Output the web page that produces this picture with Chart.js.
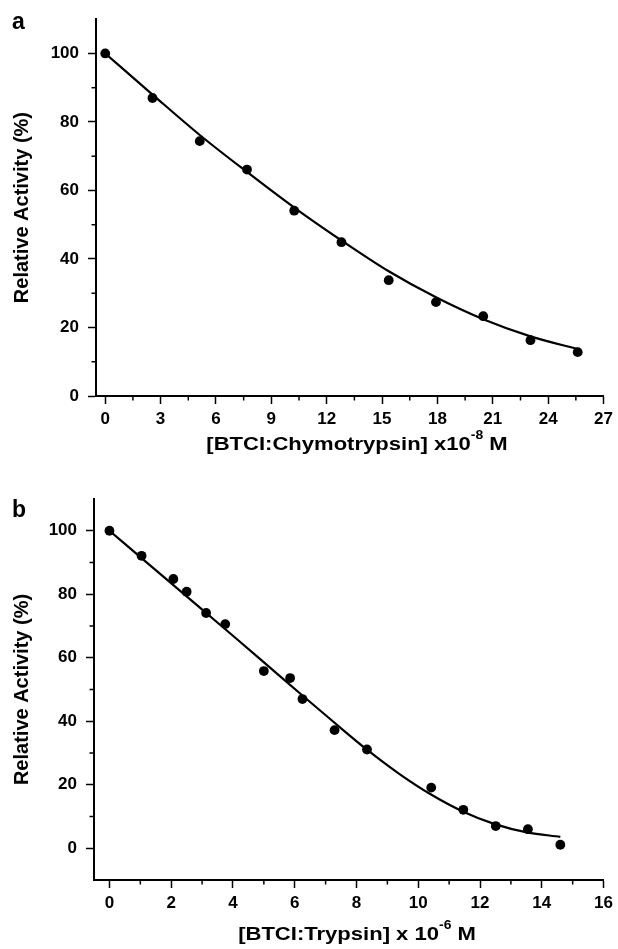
<!DOCTYPE html>
<html>
<head>
<meta charset="utf-8">
<script src="https://cdn.jsdelivr.net/npm/chart.js@4.4.1/dist/chart.umd.min.js"></script>
<style>
  html, body { margin:0; padding:0; background:#fff; }
  #wrap { position:relative; width:618px; height:949px; }
  canvas { position:absolute; left:0; }
  #ca { top:0; }
  #cb { top:470px; }
</style>
</head>
<body>
<div id="wrap">
  <canvas id="ca" width="618" height="470"></canvas>
  <canvas id="cb" width="618" height="479"></canvas>
</div>
<script>
// ---------- Panel a: BTCI vs Chymotrypsin ----------
const aConc      = [0, 2.56, 5.12, 7.68, 10.24, 12.8, 15.36, 17.92, 20.48, 23.04, 25.6];
const aActivity  = [100, 87.0, 74.4, 66.1, 54.1, 44.9, 33.8, 27.4, 23.3, 16.3, 12.8];
const aFitConc   = [0, 2.56, 5.12, 7.68, 10.24, 12.8, 15.36, 17.92, 20.48, 23.04, 25.6];
const aFitAct    = [100, 88.0, 76.2, 65.4, 55.0, 45.4, 36.4, 28.8, 22.4, 17.4, 13.7];
const aXTicks    = [0, 3, 6, 9, 12, 15, 18, 21, 24, 27];
const aXMinor    = [1.5, 4.5, 7.5, 10.5, 13.5, 16.5, 19.5, 22.5, 25.5];
const aYTicks    = [0, 20, 40, 60, 80, 100];
const aYMinor    = [10, 30, 50, 70, 90];
const aXTitle    = ['[BTCI:Chymotrypsin] x10', '-8', ' M'];

// ---------- Panel b: BTCI vs Trypsin ----------
const bConc      = [0, 1.04, 2.07, 2.5, 3.13, 3.75, 5.0, 5.85, 6.25, 7.29, 8.34, 10.42, 11.46, 12.51, 13.55, 14.6];
const bActivity  = [100, 92.1, 84.8, 80.8, 74.1, 70.6, 55.8, 53.6, 47.0, 37.2, 31.1, 19.1, 12.1, 7.0, 6.0, 1.1];
const bFitConc   = [0, 1.04, 2.08, 3.12, 4.16, 5.2, 6.24, 7.28, 8.32, 9.36, 10.4, 11.44, 12.48, 13.52, 14.6];
const bFitAct    = [100, 91.4, 82.8, 74.2, 65.6, 56.9, 48.2, 39.6, 31.2, 23.6, 17.0, 11.6, 7.6, 5.0, 3.6];
const bXTicks    = [0, 2, 4, 6, 8, 10, 12, 14, 16];
const bXMinor    = [1, 3, 5, 7, 9, 11, 13, 15];
const bYTicks    = [0, 20, 40, 60, 80, 100];
const bYMinor    = [10, 30, 50, 70, 90];
const bXTitle    = ['[BTCI:Trypsin] x 10', '-6', ' M'];

const yTitle = 'Relative Activity (%)';
const FAM = "'Liberation Sans', Arial, Helvetica, sans-serif";

Chart.defaults.color = '#000';
Chart.defaults.font.family = FAM;

const decor = {
  id: 'decor',
  afterDraw(chart) {
    const o = chart.options.plugins.decor;
    const ctx = chart.ctx;
    const xs = chart.scales.x, ys = chart.scales.y;
    ctx.save();
    ctx.strokeStyle = '#000';
    ctx.lineWidth = 1.5;
    o.xMinor.forEach(v => {
      const p = xs.getPixelForValue(v);
      ctx.beginPath(); ctx.moveTo(p, ys.bottom); ctx.lineTo(p, ys.bottom + 4.5); ctx.stroke();
    });
    o.yMinor.forEach(v => {
      const p = ys.getPixelForValue(v);
      ctx.beginPath(); ctx.moveTo(xs.left, p); ctx.lineTo(xs.left - 4.5, p); ctx.stroke();
    });
    ctx.fillStyle = '#000';
    // y title
    ctx.save();
    ctx.translate(o.yTitleX, (ys.top + ys.bottom) / 2);
    ctx.rotate(-Math.PI / 2);
    ctx.font = 'bold 20px ' + FAM;
    ctx.textAlign = 'center';
    ctx.textBaseline = 'alphabetic';
    ctx.fillText(yTitle, 0, 0);
    ctx.restore();
    // x title with superscript, slightly widened
    ctx.save();
    const fMain = 'bold 19px ' + FAM, fSup = 'bold 12px ' + FAM;
    const parts = [[o.xTitle[0], fMain, 0], [o.xTitle[1], fSup, -11], [o.xTitle[2], fMain, 0]];
    let w = 0;
    parts.forEach(p => { ctx.font = p[1]; w += ctx.measureText(p[0]).width; });
    ctx.translate(o.xTitleCx, ys.bottom + o.xTitleDy);
    ctx.scale(1.16, 1);
    ctx.textAlign = 'left';
    ctx.textBaseline = 'alphabetic';
    let cx = -w / 2;
    parts.forEach(p => { ctx.font = p[1]; ctx.fillText(p[0], cx, p[2]); cx += ctx.measureText(p[0]).width; });
    ctx.restore();
    // panel letter
    ctx.font = 'bold 23px ' + FAM;
    ctx.textAlign = 'left';
    ctx.textBaseline = 'alphabetic';
    ctx.fillText(o.letter, 12, o.letterY);
    ctx.restore();
  }
};

function makePanel(id, cfg) {
  const H = document.getElementById(id).height;
  return new Chart(document.getElementById(id), {
    type: 'scatter',
    data: {
      datasets: [
        {
          data: cfg.fitX.map((x, i) => ({ x: x, y: cfg.fitY[i] })),
          showLine: true, borderColor: '#000', borderWidth: 2.2,
          pointRadius: 0, cubicInterpolationMode: 'monotone', fill: false
        },
        {
          data: cfg.x.map((x, i) => ({ x: x, y: cfg.y[i] })),
          showLine: false, pointRadius: 4.9, pointBackgroundColor: '#000',
          pointBorderWidth: 0, borderColor: '#000'
        }
      ]
    },
    options: {
      responsive: false, animation: false, devicePixelRatio: 1,
      layout: { padding: { top: cfg.padTop, right: cfg.padRight, left: 0, bottom: 0 } },
      plugins: {
        legend: { display: false }, tooltip: { enabled: false },
        decor: {
          xMinor: cfg.xMinor, yMinor: cfg.yMinor, xTitle: cfg.xTitle,
          xTitleCx: 357, xTitleDy: cfg.titleDy, yTitleX: 28,
          letter: cfg.letter, letterY: cfg.letterY
        }
      },
      scales: {
        x: {
          type: 'linear', min: cfg.xMin, max: cfg.xMax,
          afterBuildTicks: s => { s.ticks = cfg.xTicks.map(v => ({ value: v })); },
          afterFit: s => { s.height = H - cfg.bottom; },
          grid: { display: true, drawOnChartArea: false, drawTicks: true, tickLength: 8, tickWidth: 1.5, tickColor: '#000' },
          border: { display: true, color: '#000', width: 2 },
          ticks: { color: '#000', font: { size: 17, weight: 'bold' }, padding: 5, maxRotation: 0, autoSkip: false }
        },
        y: {
          type: 'linear', min: cfg.yMin, max: cfg.yMax,
          afterBuildTicks: s => { s.ticks = cfg.yTicks.map(v => ({ value: v })); },
          afterFit: s => { s.width = cfg.left; },
          grid: { display: true, drawOnChartArea: false, drawTicks: true, tickLength: 8, tickWidth: 1.5, tickColor: '#000' },
          border: { display: true, color: '#000', width: 2 },
          ticks: { color: '#000', font: { size: 17, weight: 'bold' }, padding: 9, autoSkip: false }
        }
      }
    },
    plugins: [decor]
  });
}

makePanel('ca', {
  x: aConc, y: aActivity, fitX: aFitConc, fitY: aFitAct,
  xTicks: aXTicks, xMinor: aXMinor, yTicks: aYTicks, yMinor: aYMinor,
  xMin: -0.5, xMax: 27, yMin: 0, yMax: 110,
  padTop: 16, padRight: 13, left: 96, bottom: 396,
  xTitle: aXTitle, titleDy: 54, letter: 'a', letterY: 29
});

makePanel('cb', {
  x: bConc, y: bActivity, fitX: bFitConc, fitY: bFitAct,
  xTicks: bXTicks, xMinor: bXMinor, yTicks: bYTicks, yMinor: bYMinor,
  xMin: -0.5, xMax: 16, yMin: -10, yMax: 110,
  padTop: 29, padRight: 14, left: 94, bottom: 410,
  xTitle: bXTitle, titleDy: 60, letter: 'b', letterY: 47
});
</script>
</body>
</html>
